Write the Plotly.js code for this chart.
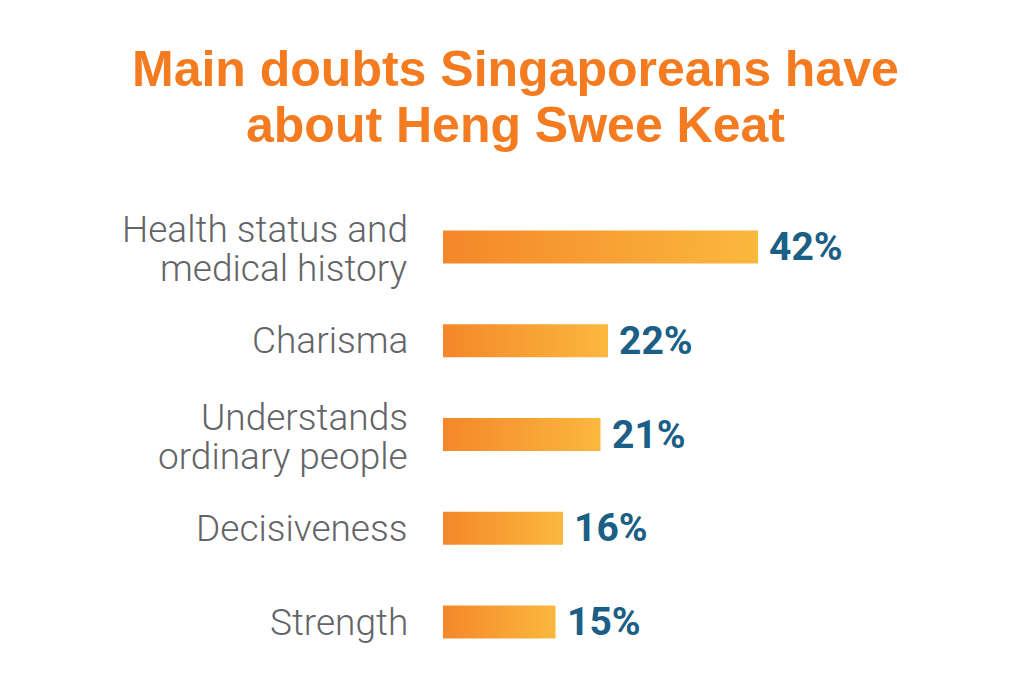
<!DOCTYPE html>
<html>
<head>
<meta charset="utf-8">
<script src="https://cdn.plot.ly/plotly-3.0.1.min.js"></script>
<style>
  html, body { margin: 0; padding: 0; background: #ffffff; }
  #chart { width: 1024px; height: 681px; }
</style>
</head>
<body>
<svg width="0" height="0" style="position:absolute">
  <defs>
    <linearGradient id="barGrad" x1="0" y1="0" x2="1" y2="0">
      <stop offset="0" stop-color="#f4872a"/>
      <stop offset="1" stop-color="#fbb83d"/>
    </linearGradient>
  </defs>
</svg>
<div id="chart"></div>
<script>
const titleLines = ["Main doubts Singaporeans have", "about Heng Swee Keat"];
const categories = [
  "Health status and<br>medical history",
  "Charisma",
  "Understands<br>ordinary people",
  "Decisiveness",
  "Strength"
];
const values = [42, 22, 21, 16, 15];
const valueLabels = ["42%", "22%", "21%", "16%", "15%"];

const catIdx = categories.map((c, i) => i);

const trace = {
  type: "bar",
  orientation: "h",
  x: values,
  y: catIdx,
  width: 0.352,
  marker: { color: "#f79d32", line: { width: 0 } },
  hoverinfo: "skip"
};

const labelFont = { family: "Roboto, Liberation Sans, sans-serif", size: 37, weight: 300, color: "#636467" };
const valueFont = { family: "Roboto, Liberation Sans, sans-serif", size: 39, weight: 700, color: "#1b5e86" };

const annotations = [];
// category labels (each line separately for tight leading)
categories.forEach((c, i) => {
  const lines = c.split("<br>");
  const lh = 39;
  lines.forEach((ln, k) => {
    const off = (k - (lines.length - 1) / 2) * lh + (lines.length > 1 ? 2 : 0);
    annotations.push({
      text: ln, xref: "paper", yref: "y", x: 0, y: i,
      xanchor: "right", yanchor: "middle",
      xshift: -33, yshift: -off,
      showarrow: false,
      font: labelFont
    });
  });
});
// value labels
values.forEach((v, i) => {
  annotations.push({
    text: valueLabels[i], xref: "x", yref: "y", x: v, y: i,
    xanchor: "left", yanchor: "middle", xshift: 9,
    showarrow: false,
    font: valueFont
  });
});
// title lines
const titleShifts = [131, 75];
titleLines.forEach((t, k) => {
  annotations.push({
    text: "<b>" + t + "</b>", xref: "paper", yref: "paper",
    x: (515 - 443) / 525, y: 1,
    xanchor: "center", yanchor: "middle", yshift: titleShifts[k],
    showarrow: false,
    font: { family: "Liberation Sans, Arial, sans-serif", size: 50, color: "#f47b20" }
  });
});

const layout = {
  width: 1024, height: 681,
  margin: { l: 443, r: 56, t: 200, b: 12 },
  paper_bgcolor: "#ffffff", plot_bgcolor: "#ffffff",
  showlegend: false,
  xaxis: { range: [0, 70], visible: false, fixedrange: true },
  yaxis: { range: [4.5, -0.5], visible: false, fixedrange: true },
  annotations: annotations
};

Plotly.newPlot("chart", [trace], layout, { displayModeBar: false, staticPlot: true }).then(() => {
  document.querySelectorAll("#chart .trace.bars .point path").forEach(p => {
    p.style.fill = "url(#barGrad)";
  });
});
</script>
</body>
</html>
